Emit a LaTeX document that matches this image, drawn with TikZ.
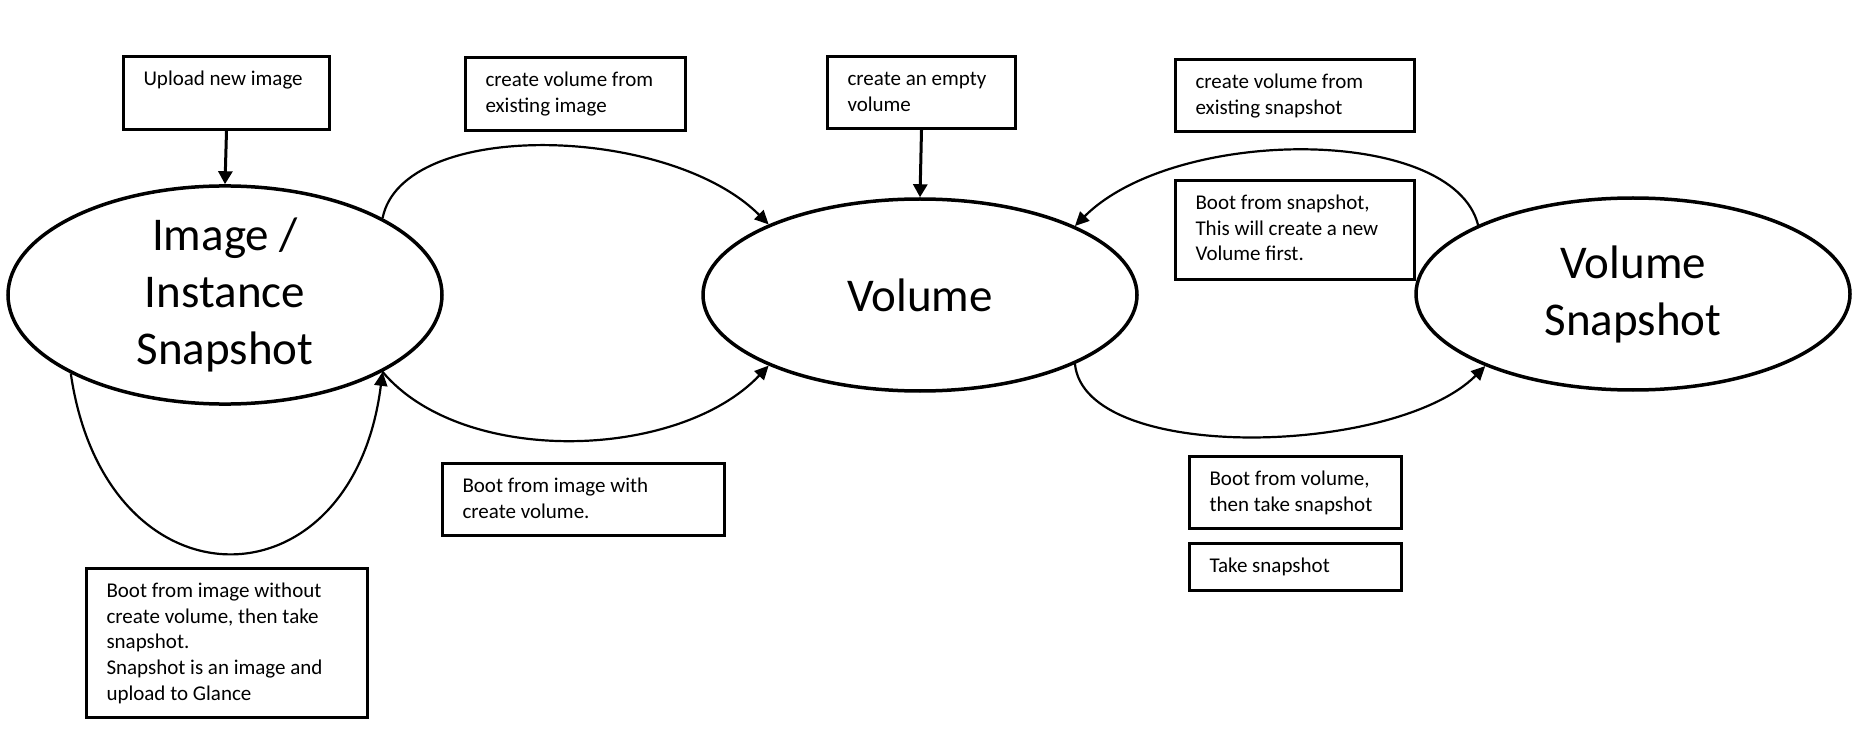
\documentclass[tikz,border=0pt]{standalone}
\usepackage{fontspec}
\setmainfont{Carlito}
\usetikzlibrary{shapes.geometric,arrows.meta}
\newcommand{\bxt}[3]{\parbox[c][#1][t]{#2}{\rule{0pt}{29pt}#3}}
\begin{document}
\begin{tikzpicture}[x=1pt,y=-1pt,
  state/.style={ellipse, draw, line width=3.5pt, minimum width=434pt, minimum height=192pt,
    inner sep=0pt, align=center, font=\fontsize{47}{57}\selectfont},
  lbl/.style={draw, line width=3pt, anchor=north west, inner xsep=20pt, inner ysep=0pt,
    font=\fontsize{21}{25.7}\selectfont},
  conn/.style={line width=2.2pt, -{Triangle[length=14pt,width=13pt]}},
  vconn/.style={line width=3pt, -{Triangle[length=13pt,width=14pt]}}]
\useasboundingbox (0,0) rectangle (1858,735);

\node[state] (e1) at (225,295) {Image /\\Instance\\Snapshot};
\node[state] (e2) at (920,295) {Volume};
\node[state, yshift=-4pt] (e3) at (1633,290) {Volume\\Snapshot};

\node[lbl] (a) at (122,55) {\bxt{73pt}{166pt}{\mbox{Upload new image}}};
\node[lbl] (b) at (464,56) {\bxt{73pt}{180pt}{\mbox{create volume from}\\\mbox{existing image}}};
\node[lbl] (c) at (826,55) {\bxt{72pt}{148pt}{\mbox{create an empty}\\\mbox{volume}}};
\node[lbl] (d) at (1174,58) {\bxt{72pt}{199pt}{\mbox{create volume from}\\\mbox{existing snapshot}}};
\node[lbl] (e) at (1174,179) {\bxt{99pt}{199pt}{\mbox{Boot from snapshot,}\\\mbox{This will create a new}\\\mbox{Volume first.}}};
\node[lbl] (f) at (441,462) {\bxt{72pt}{242pt}{\mbox{Boot from image with}\\\mbox{create volume.}}};
\node[lbl] (g) at (85,567) {\bxt{149pt}{241pt}{\mbox{Boot from image without}\\\mbox{create volume, then take}\\\mbox{snapshot.}\\\mbox{Snapshot is an image and}\\\mbox{upload to Glance}}};
\node[lbl] (h) at (1188,455) {\bxt{72pt}{172pt}{\mbox{Boot from volume,}\\\mbox{then take snapshot}}};
\node[lbl] (i) at (1188,542) {\bxt{47pt}{172pt}{\mbox{Take snapshot}}};

\draw[vconn] (a.south) -- (e1.north);
\draw[vconn] (c.south) -- (e2.north);

\draw[conn] (e1.26) .. controls +(20,-100) and +(-100,-100) .. (e2.155);
\draw[conn] (e1.-26) .. controls +(80,95) and +(-90,95) .. (e2.205);
\draw[conn] (e1.207) .. controls +(35,240) and +(-30,240) .. (e1.-26);
\draw[conn] (e3.156) .. controls +(-25,-100) and +(100,-100) .. (e2.24);
\draw[conn] (e2.-24) .. controls +(10,100) and +(-90,90) .. (e3.206);
\end{tikzpicture}
\end{document}
